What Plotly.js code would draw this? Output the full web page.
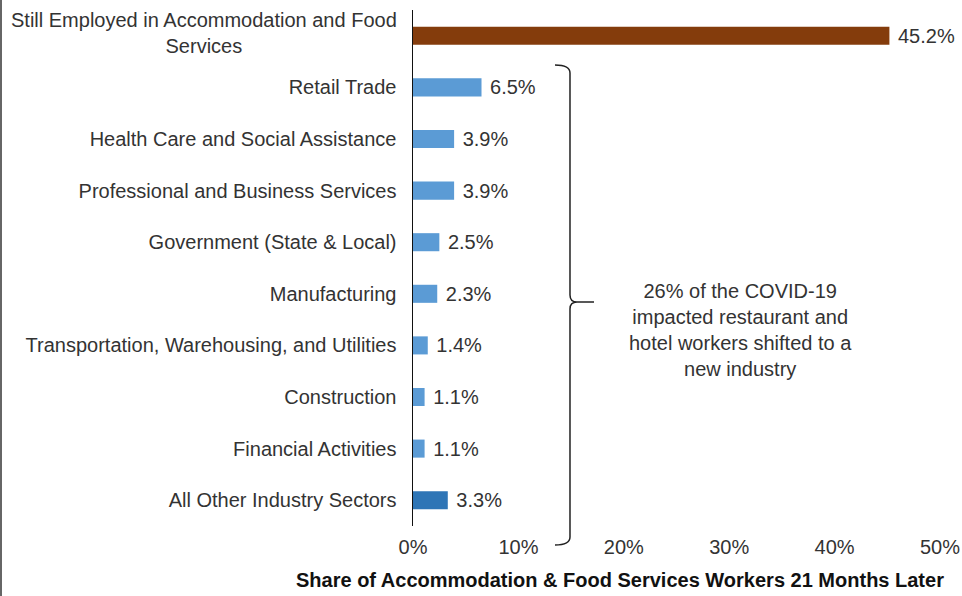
<!DOCTYPE html>
<html>
<head>
<meta charset="utf-8">
<script src="https://cdn.plot.ly/plotly-3.0.1.min.js"></script>
<style>
html,body{margin:0;padding:0;background:#fff;}
#chart{width:962px;height:596px;}
#frame{position:absolute;left:0;top:0;width:2px;height:596px;background:#666;}
</style>
</head>
<body>
<div id="chart"></div>
<div id="frame"></div>
<script>
// ---- data ----
const categories = [
  "Still Employed in Accommodation and Food Services",
  "Retail Trade",
  "Health Care and Social Assistance",
  "Professional and Business Services",
  "Government (State & Local)",
  "Manufacturing",
  "Transportation, Warehousing, and Utilities",
  "Construction",
  "Financial Activities",
  "All Other Industry Sectors"
];
const shares = [45.2, 6.5, 3.9, 3.9, 2.5, 2.3, 1.4, 1.1, 1.1, 3.3];
const barColors = ["#843C0C", "#5B9BD5", "#5B9BD5", "#5B9BD5", "#5B9BD5",
                   "#5B9BD5", "#5B9BD5", "#5B9BD5", "#5B9BD5", "#2E75B6"];
const xTickVals = [0, 10, 20, 30, 40, 50];
const xTickText = ["0%", "10%", "20%", "30%", "40%", "50%"];
const firstLabelLines = ["Still Employed in Accommodation and Food", "Services"];
const braceNote = ["26% of the COVID-19", "impacted restaurant and", "hotel workers shifted to a", "new industry"];
const xTitle = "Share of Accommodation & Food Services Workers 21 Months Later";

// ---- layout helpers (pixel -> paper) ----
const W = 962, H = 596, L = 413, R = 22, T = 10, B = 70;
const pw = W - L - R, ph = H - T - B;
const px = x => ((x - L) / pw).toFixed(4);
const py = y => ((H - B - y) / ph).toFixed(4);

const bracePath =
  `M${px(555)},${py(65)} Q${px(570)},${py(65)} ${px(570)},${py(73)} ` +
  `L${px(570)},${py(295)} Q${px(570)},${py(302)} ${px(577)},${py(302)} L${px(594)},${py(302)} ` +
  `M${px(577)},${py(302)} Q${px(570)},${py(302)} ${px(570)},${py(309)} ` +
  `L${px(570)},${py(537)} Q${px(570)},${py(545)} ${px(555)},${py(545)}`;

const tickText = categories.map((c, i) => i === 0 ? "" : c);
const FONT = "Liberation Sans, Arial, sans-serif";
const FS = 20;

const trace = {
  type: "bar",
  orientation: "h",
  y: categories,
  x: shares,
  marker: {color: barColors},
  width: 0.35,
  text: shares.map(v => "\u00a0" + v.toFixed(1) + "%"),
  textposition: "outside",
  constraintext: "none",
  textfont: {family: FONT, size: FS, color: "#333"},
  cliponaxis: false,
  hoverinfo: "none"
};

const layout = {
  width: W, height: H,
  margin: {l: L, r: R, t: T, b: B},
  paper_bgcolor: "#fff",
  plot_bgcolor: "#fff",
  showlegend: false,
  font: {family: FONT, size: FS, color: "#333"},
  xaxis: {
    range: [0, 50],
    tickvals: xTickVals,
    ticktext: xTickText,
    showgrid: false,
    zeroline: false,
    showline: false,
    ticks: "",
    ticklabelstandoff: 7,
    tickfont: {family: FONT, size: FS, color: "#333"}
  },
  yaxis: {
    type: "category",
    autorange: "reversed",
    tickvals: categories,
    ticktext: tickText,
    showgrid: false,
    zeroline: false,
    showline: true,
    linecolor: "#111",
    linewidth: 1.5,
    ticks: "",
    ticklabelstandoff: 11,
    tickfont: {family: FONT, size: FS, color: "#333"}
  },
  shapes: [{
    type: "path",
    xref: "paper", yref: "paper",
    path: bracePath,
    line: {color: "#222", width: 1.5}
  }],
  annotations: [
    {
      xref: "paper", yref: "y",
      x: 0, y: categories[0],
      xanchor: "right", yanchor: "middle",
      xshift: -14, yshift: 3,
      align: "center",
      showarrow: false,
      text: firstLabelLines.join("<br>"),
      font: {family: FONT, size: FS, color: "#333"}
    },
    {
      xref: "paper", yref: "paper",
      x: px(740), y: py(330),
      xanchor: "center", yanchor: "middle",
      align: "center",
      showarrow: false,
      text: braceNote.join("<br>"),
      font: {family: FONT, size: FS, color: "#333"}
    },
    {
      xref: "paper", yref: "paper",
      x: px(620), y: py(580),
      xanchor: "center", yanchor: "middle",
      showarrow: false,
      text: "<b>" + xTitle + "</b>",
      font: {family: FONT, size: FS, color: "#111"}
    }
  ]
};

Plotly.newPlot("chart", [trace], layout, {displayModeBar: false, staticPlot: true});
</script>
</body>
</html>
